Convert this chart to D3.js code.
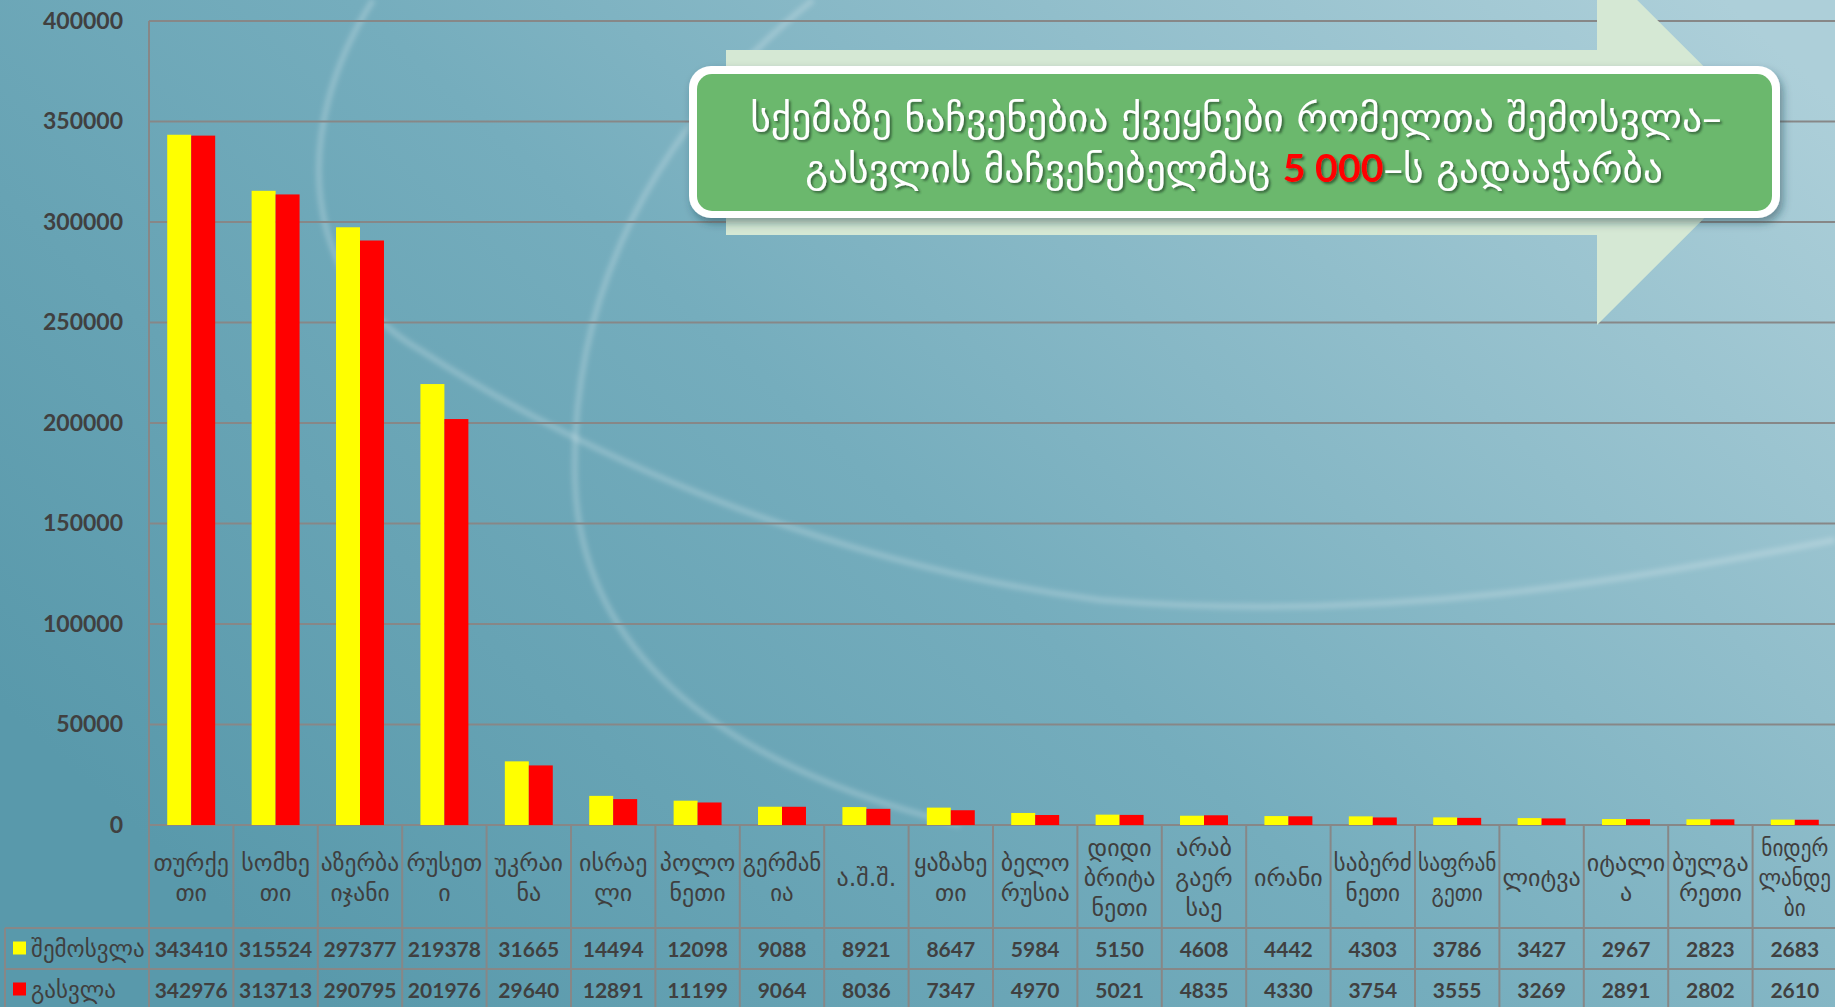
<!DOCTYPE html>
<html>
<head>
<meta charset="utf-8">
<script src="https://cdn.jsdelivr.net/npm/d3@7"></script>
<style>
body { margin: 0; overflow: hidden; }
svg { display: block; }
.num { font-family: Lato, "DejaVu Sans", sans-serif; font-weight: bold; fill: #404040; }
.geo { font-family: "DejaVu Sans", sans-serif; fill: #3f3f3f; }
</style>
</head>
<body>
<svg id="chart"></svg>
<script>

// Chart data
var categories = ["თურქე\nთი", "სომხე\nთი", "აზერბა\nიჯანი", "რუსეთ\nი", "უკრაი\nნა",
    "ისრაე\nლი", "პოლო\nნეთი", "გერმან\nია", "ა.შ.შ.", "ყაზახე\nთი",
    "ბელო\nრუსია", "დიდი\nბრიტა\nნეთი", "არაბ\nგაერ\nსაე", "ირანი", "საბერძ\nნეთი",
    "საფრან\nგეთი", "ლიტვა", "იტალი\nა", "ბულგა\nრეთი", "ნიდერ\nლანდე\nბი"];
var arrivals = [343410, 315524, 297377, 219378, 31665, 14494, 12098, 9088, 8921, 8647,
    5984, 5150, 4608, 4442, 4303, 3786, 3427, 2967, 2823, 2683];
var departures = [342976, 313713, 290795, 201976, 29640, 12891, 11199, 9064, 8036, 7347,
    4970, 5021, 4835, 4330, 3754, 3555, 3269, 2891, 2802, 2610];
var yTicks = [0, 50000, 100000, 150000, 200000, 250000, 300000, 350000, 400000];
var seriesNames = ["შემოსვლა", "გასვლა"];
var seriesColors = ["#ffff00", "#ff0000"];
var titleLine1 = "სქემაზე ნაჩვენებია ქვეყნები რომელთა შემოსვლა–";
var titleLine2 = ["გასვლის მაჩვენებელმაც  ", "5 000", "–ს გადააჭარბა"];

var series = [arrivals, departures];

// Canvas size and plot box
var width = 1835,
    height = 1007;
var plot = {left: 149, right: 1837, top: 21, bottom: 825};
var rows = [825, 928, 969, 1010];
var gridColor = "#878787";

var svg = d3.select("#chart")
    .attr("width", width)
    .attr("height", height);

var defs = svg.append("defs");

// Background gradient
var bg = defs.append("linearGradient")
    .attr("id", "bg")
    .attr("x1", 0).attr("y1", 0.7)
    .attr("x2", 1).attr("y2", 0.1);
bg.append("stop").attr("offset", 0).attr("stop-color", "#5999ab");
bg.append("stop").attr("offset", 0.45).attr("stop-color", "#75adbd");
bg.append("stop").attr("offset", 1).attr("stop-color", "#adcfd9");

var blur = defs.append("filter").attr("id", "soft");
blur.append("feGaussianBlur").attr("stdDeviation", 2.5);

var boxShadow = defs.append("filter").attr("id", "boxShadow")
    .attr("x", -0.05).attr("y", -0.1).attr("width", 1.1).attr("height", 1.3);
boxShadow.append("feDropShadow")
    .attr("dx", 3).attr("dy", 5).attr("stdDeviation", 4)
    .attr("flood-color", "#1d3d45").attr("flood-opacity", 0.45);

var textShadow = defs.append("filter").attr("id", "textShadow");
textShadow.append("feDropShadow")
    .attr("dx", 2).attr("dy", 2).attr("stdDeviation", 1)
    .attr("flood-color", "#24452a").attr("flood-opacity", 0.7);

svg.append("rect")
    .attr("width", width)
    .attr("height", height)
    .attr("fill", "url(#bg)");

// Faint swirl lines of the slide theme
var swirls = [
    "M 373 0 C 290 130, 300 280, 420 350 C 560 440, 800 560, 1100 600 C 1400 625, 1650 575, 1835 540",
    "M 813 0 C 650 130, 570 300, 575 480 C 580 640, 700 760, 960 825"
];
svg.append("g")
    .attr("filter", "url(#soft)")
  .selectAll("path")
    .data(swirls)
    .enter()
    .append("path")
    .attr("d", function(d) { return d; })
    .attr("fill", "none")
    .attr("stroke", "#ffffff")
    .attr("stroke-opacity", 0.22)
    .attr("stroke-width", 6);

// Scales
var x = d3.scaleBand()
    .domain(d3.range(categories.length))
    .range([plot.left, plot.right]);
var xs = d3.scaleBand()
    .domain([0, 1])
    .range([0, x.bandwidth()])
    .paddingOuter(0.76);
var y = d3.scaleLinear()
    .domain([0, 400000])
    .range([plot.bottom, plot.top]);

// Gridlines
svg.append("g")
  .selectAll("line")
    .data(yTicks)
    .enter()
    .append("line")
    .attr("x1", plot.left)
    .attr("x2", plot.right)
    .attr("y1", function(d) { return y(d); })
    .attr("y2", function(d) { return y(d); })
    .attr("stroke", gridColor)
    .attr("stroke-width", 2);

// Arrow behind the note
var ay = [50, 235], headTop = -40, headBottom = 325, baseX = 1597, tipX = 1780;
svg.append("path")
    .attr("d", "M 726 " + ay[0] + " L " + baseX + " " + ay[0] + " L " + baseX + " " + headTop +
        " L " + tipX + " " + (ay[0] + ay[1]) / 2 + " L " + baseX + " " + headBottom +
        " L " + baseX + " " + ay[1] + " L 726 " + ay[1] + " Z")
    .attr("fill", "#d5e8d4");

// Note box
var note = svg.append("g");
note.append("rect")
    .attr("x", 689).attr("y", 66)
    .attr("width", 1091).attr("height", 152)
    .attr("rx", 22)
    .attr("fill", "#ffffff")
    .attr("filter", "url(#boxShadow)");
note.append("rect")
    .attr("x", 697).attr("y", 74)
    .attr("width", 1075).attr("height", 137)
    .attr("rx", 15)
    .attr("fill", "#6bb86d");

// Fit a title line to its width in the picture
function titleLine(parts, cx, baseline, target) {
    var t = note.append("text")
        .attr("text-anchor", "middle")
        .attr("filter", "url(#textShadow)")
        .style("font-family", "\"DejaVu Sans\", sans-serif")
        .style("font-size", "38px")
        .attr("fill", "#ffffff");
    parts.forEach(function(p, i) {
        var s = t.append("tspan").text(p);
        if (i == 1) {
            s.attr("fill", "#ff0000")
                .style("font-family", "Lato, sans-serif")
                .style("font-weight", "bold")
                .style("font-size", "38px");
        }
    });
    var w = t.node().getComputedTextLength();
    t.attr("transform", "translate(" + cx + "," + baseline + ") scale(" + (target / w) + ",1)");
}
titleLine([titleLine1], 1236, 131, 972);
titleLine(titleLine2, 1234, 182, 858);

// Bars
var groups = svg.append("g")
  .selectAll("g")
    .data(series)
    .enter()
    .append("g")
    .attr("fill", function(d, i) { return seriesColors[i]; });

groups.each(function(values, s) {
    d3.select(this).selectAll("rect")
        .data(values)
        .enter()
        .append("rect")
        .attr("x", function(d, i) { return x(i) + xs(s); })
        .attr("y", function(d) { return y(d); })
        .attr("width", xs.bandwidth())
        .attr("height", function(d) { return y(0) - y(d); });
});

// Y axis
var yAxis = d3.axisLeft(y)
    .tickValues(yTicks)
    .tickSize(0)
    .tickPadding(26)
    .tickFormat(d3.format("d"));

svg.append("g")
    .attr("class", "y axis num")
    .attr("transform", "translate(" + plot.left + ",0)")
    .call(yAxis)
    .call(function(g) { g.select(".domain").remove(); })
    .selectAll("text")
    .attr("fill", "#404040")
    .style("font-family", "Lato, sans-serif")
    .style("font-size", "23px")
    .style("font-weight", "bold");

// Data table under the chart
var table = svg.append("g")
    .attr("stroke", gridColor)
    .attr("stroke-width", 2);

table.append("line")
    .attr("x1", plot.left).attr("x2", plot.left)
    .attr("y1", plot.top).attr("y2", rows[3]);
table.append("line")
    .attr("x1", 5).attr("x2", 5)
    .attr("y1", rows[1]).attr("y2", rows[3]);

table.selectAll(".vline")
    .data(d3.range(1, categories.length + 1))
    .enter()
    .append("line")
    .attr("x1", function(d) { return plot.left + d * x.step(); })
    .attr("x2", function(d) { return plot.left + d * x.step(); })
    .attr("y1", rows[0])
    .attr("y2", rows[3]);

table.selectAll(".hline")
    .data(rows.slice(1))
    .enter()
    .append("line")
    .attr("x1", 5).attr("x2", plot.right)
    .attr("y1", function(d) { return d; })
    .attr("y2", function(d) { return d; });

// Category labels, wrapped like in the picture
var lineHeight = 30;
var headerMid = (rows[0] + rows[1]) / 2;
svg.append("g")
  .selectAll("text")
    .data(categories)
    .enter()
    .append("text")
    .attr("class", "geo")
    .attr("text-anchor", "middle")
    .style("font-size", "24px")
    .each(function(d, i) {
        var lines = d.split("\n");
        var t = d3.select(this);
        var cx = x(i) + x.bandwidth() / 2;
        // Room inside the cell, and inside the page for the last column
        var room = Math.min(x.bandwidth() - 6, 2 * (width - cx) - 8);
        var widest = 0;
        lines.forEach(function(l, k) {
            var s = t.append("tspan")
                .attr("x", cx)
                .attr("y", headerMid + (k - (lines.length - 1) / 2) * lineHeight + 9.5)
                .text(l);
            widest = Math.max(widest, s.node().getComputedTextLength());
        });
        // Squeeze labels that would run into the cell border
        if (widest > room) {
            t.attr("transform", "translate(" + cx + ",0) scale(" + (room / widest) + ",1) translate(" + (-cx) + ",0)");
        }
    });

// Value rows and legend keys
series.forEach(function(values, s) {
    var mid = (rows[s + 1] + rows[s + 2]) / 2;

    svg.append("g")
      .selectAll("text")
        .data(values)
        .enter()
        .append("text")
        .attr("class", "num")
        .attr("text-anchor", "middle")
        .attr("x", function(d, i) { return x(i) + x.bandwidth() / 2; })
        .attr("y", mid + 1)
        .attr("dy", "0.36em")
        .style("font-size", "21px")
        .text(function(d) { return d; });

    svg.append("rect")
        .attr("x", 13)
        .attr("y", mid - 7)
        .attr("width", 13)
        .attr("height", 13)
        .attr("fill", seriesColors[s]);

    svg.append("text")
        .attr("class", "geo")
        .attr("x", 31)
        .attr("y", mid + 8)
        .style("font-size", "23px")
        .text(seriesNames[s]);
});

</script>
</body>
</html>
